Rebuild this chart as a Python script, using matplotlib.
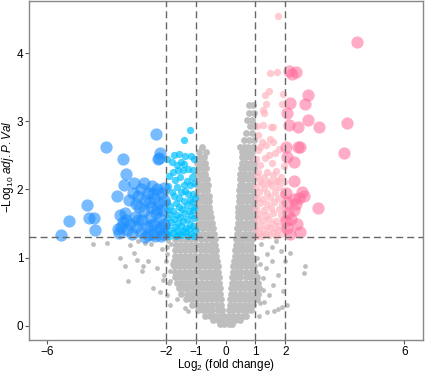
import matplotlib
matplotlib.use("Agg")
import matplotlib.pyplot as plt

plt.rcParams['font.family'] = ['Liberation Sans', 'DejaVu Sans']
plt.rcParams['mathtext.fontset'] = 'custom'
plt.rcParams['mathtext.rm'] = 'Liberation Sans'
plt.rcParams['mathtext.it'] = 'Liberation Sans:italic'

# ---- not significant, dense cloud: one y level per row, x values per row ----
gray_rows_y = [0.02, 0.08, 0.15, 0.23, 0.31, 0.39, 0.47, 0.55, 0.63, 0.71, 0.79, 0.87,
               0.95, 1.03, 1.11, 1.19, 1.27,
               1.35, 1.43, 1.51, 1.59, 1.67, 1.75, 1.83, 1.91, 1.99, 2.07, 2.15, 2.23,
               2.31, 2.39, 2.47, 2.55, 2.63, 2.73, 2.83, 2.93, 3.02, 3.12, 3.24]
gray_rows_x = [
    [-0.18, -0.04, 0.10, 0.22],
    [-0.42, -0.27, -0.12, 0.03, 0.18, 0.33, 0.47],
    [-0.68, -0.52, -0.36, -0.20, -0.05, 0.10, 0.26, 0.42, 0.57, 0.69],
    [-0.93, -0.77, -0.60, -0.44, -0.27, -0.12, 0.12, 0.26, 0.42, 0.58, 0.73, 0.85],
    [-1.13, -0.97, -0.80, -0.63, -0.47, -0.30, -0.14, 0.14, 0.28, 0.45, 0.62, 0.78, 0.93],
    [-1.33, -1.16, -1.00, -0.83, -0.66, -0.50, -0.33, -0.17, 0.16, 0.30, 0.47, 0.64, 0.80, 0.96, 1.05],
    [-1.48, -1.31, -1.14, -0.97, -0.80, -0.63, -0.47, -0.31, -0.18, 0.18, 0.31, 0.47, 0.63, 0.80, 0.96, 1.10],
    [-1.58, -1.41, -1.24, -1.07, -0.90, -0.73, -0.56, -0.40, -0.26, -0.19, 0.19, 0.31, 0.48, 0.65, 0.82, 0.98, 1.13],
    [-1.64, -1.47, -1.30, -1.13, -0.96, -0.79, -0.62, -0.45, -0.31, -0.21, 0.21, 0.32, 0.49, 0.66, 0.83, 0.98, 1.10],
    [-1.69, -1.52, -1.35, -1.18, -1.01, -0.84, -0.67, -0.50, -0.35, -0.23, 0.23, 0.35, 0.50, 0.67, 0.84, 0.98, 1.06],
    [-1.71, -1.54, -1.37, -1.20, -1.03, -0.86, -0.69, -0.52, -0.37, -0.25, 0.25, 0.37, 0.51, 0.68, 0.84, 0.98],
    [-1.74, -1.57, -1.40, -1.23, -1.06, -0.89, -0.72, -0.55, -0.40, -0.27, 0.26, 0.38, 0.52, 0.69, 0.84, 0.94],
    [-1.74, -1.57, -1.40, -1.23, -1.06, -0.89, -0.72, -0.55, -0.41, -0.29, 0.28, 0.40, 0.53, 0.70, 0.85, 0.92],
    [-1.71, -1.54, -1.37, -1.20, -1.03, -0.86, -0.69, -0.53, -0.42, -0.31, 0.30, 0.42, 0.55, 0.70, 0.86],
    [-1.69, -1.52, -1.35, -1.18, -1.01, -0.84, -0.67, -0.52, -0.43, -0.33, 0.32, 0.43, 0.56, 0.71, 0.85],
    [-1.67, -1.50, -1.33, -1.16, -0.99, -0.82, -0.65, -0.50, -0.44, -0.35, 0.34, 0.45, 0.58, 0.72, 0.85],
    [-1.69, -1.52, -1.35, -1.18, -1.01, -0.84, -0.67, -0.52, -0.45, -0.37, 0.36, 0.47, 0.60, 0.74, 0.88],
    [-0.92, -0.76, -0.60, -0.47, -0.39, 0.38, 0.50, 0.66, 0.82, 0.96],
    [-0.95, -0.79, -0.63, -0.50, -0.41, 0.39, 0.50, 0.64, 0.80, 0.95],
    [-0.90, -0.74, -0.58, -0.46, 0.40, 0.52, 0.67, 0.83, 0.97],
    [-0.96, -0.80, -0.64, -0.50, 0.41, 0.53, 0.68, 0.84, 0.96],
    [-0.92, -0.76, -0.62, -0.52, 0.42, 0.54, 0.69, 0.85, 0.97],
    [-0.95, -0.79, -0.65, -0.54, 0.43, 0.55, 0.70, 0.86, 0.96],
    [-0.90, -0.74, -0.62, -0.55, 0.44, 0.56, 0.71, 0.87, 0.97],
    [-0.96, -0.80, -0.66, -0.57, 0.45, 0.57, 0.72, 0.88, 0.96],
    [-0.92, -0.76, -0.64, 0.46, 0.58, 0.73, 0.89],
    [-0.95, -0.80, -0.67, -0.60, 0.47, 0.59, 0.74, 0.90],
    [-0.90, -0.74, -0.64, 0.48, 0.60, 0.75, 0.91],
    [-0.96, -0.80, -0.68, 0.50, 0.62, 0.77, 0.93],
    [-0.88, -0.72, -0.66, 0.52, 0.64, 0.79, 0.94],
    [-0.95, -0.80, -0.70, 0.54, 0.66, 0.82, 0.95],
    [-0.85, -0.72, 0.56, 0.69, 0.85],
    [-0.90, -0.66, 0.56, 0.72, 0.90],
    [-0.80, 0.50, 0.62, 0.76, 0.92],
    [0.62, 0.78, 0.95],
    [0.70, 0.88],
    [0.82, 0.96],
    [0.72, 0.90],
    [0.77, 0.96],
    [0.77, 0.93],
]

# ---- not significant, scattered points ----
gray_out_x = [-4.46, -3.99, -3.54, -3.37, -3.26, -3.09, -2.98, -2.76, -2.80, -2.42, -2.30, -2.14,
              -2.10, -1.90, -1.64, -1.36, -1.25, -2.60, -2.50, -2.05, -2.00, -1.95, -1.85, -1.85,
              -1.80, -2.70, -2.95, -3.20, -2.20, -1.95, -1.92, -1.88, -1.98, -1.82,
              2.67, 2.63, 2.16, 1.75, 1.55, 1.94, 1.77, 1.61, 1.38, 1.27, 1.16, 1.85, 1.70,
              1.55, 1.20, 1.40, 1.45, 1.30, 1.15, 2.00, 2.05, 1.90, 1.25, 1.10, 1.05, 1.12, 1.35, 1.60]
gray_out_y = [1.20, 1.22, 1.00, 0.87, 0.65, 1.07, 0.97, 0.87, 0.80, 0.56, 0.85, 1.12,
              0.67, 0.62, 0.39, 0.26, 0.22, 0.95, 1.20, 0.75, 0.95, 0.45, 0.65, 0.30,
              0.90, 1.22, 1.25, 1.18, 0.50, 1.15, 1.25, 0.80, 1.05, 1.20,
              0.88, 0.77, 1.07, 0.75, 0.95, 0.51, 0.24, 0.21, 0.20, 0.53, 0.34, 1.10, 1.25,
              1.15, 1.20, 1.05, 0.45, 0.35, 0.90, 0.95, 0.30, 0.28, 0.70, 0.60, 1.00, 0.15, 0.85, 0.60]

# ---- down, |log2FC| between 1 and 2 ----
lblue_x = [-1.20, -1.39, -1.73, -1.56, -1.36, -1.17, -1.05, -1.81, -1.50, -1.64, -1.41, -1.08,
           -1.42, -1.75, -1.13, -1.54, -1.69, -1.30, -1.41, -1.19, -1.63, -1.80, -1.49, -1.27,
           -1.11, -1.95, -1.90, -1.60, -1.25, -1.05, -1.92, -1.35, -1.72, -1.58, -1.20, -1.03,
           -1.95, -1.65, -1.40, -1.12, -1.85, -1.55, -1.30, -1.05, -1.97, -1.75, -1.47, -1.22,
           -1.08, -1.88, -1.62, -1.38, -1.15, -1.95, -1.72, -1.52, -1.28, -1.05, -1.83, -1.60,
           -1.42, -1.18, -1.96, -1.70, -1.50, -1.33, -1.10, -1.87, -1.64, -1.44, -1.24, -1.04,
           -1.97, -1.78, -1.55, -1.36, -1.15, -1.90, -1.68, -1.48, -1.27, -1.07]
lblue_y = [2.87, 2.72, 2.51, 2.52, 2.49, 2.49, 2.44, 2.41, 2.41, 2.36, 2.38, 2.29,
           2.29, 2.25, 2.19, 2.19, 2.14, 2.12, 2.06, 2.06, 2.04, 1.96, 1.96, 1.93,
           1.93, 2.45, 2.20, 2.28, 2.30, 2.10, 2.05, 1.98, 1.90, 1.88, 1.85, 1.88,
           1.82, 1.80, 1.83, 1.81, 1.76, 1.75, 1.77, 1.74, 1.70, 1.69, 1.71, 1.68,
           1.70, 1.64, 1.63, 1.65, 1.62, 1.58, 1.57, 1.59, 1.56, 1.58, 1.52, 1.51,
           1.53, 1.50, 1.46, 1.45, 1.47, 1.44, 1.46, 1.40, 1.41, 1.39, 1.42, 1.40,
           1.35, 1.36, 1.34, 1.37, 1.35, 1.32, 1.31, 1.33, 1.32, 1.31]

# ---- down, |log2FC| > 2 ----
dblue_x = [-5.51, -5.26, -4.64, -4.60, -4.42, -4.38, -4.02, -3.43, -3.34, -3.63, -3.41, -3.06,
           -2.73, -2.47, -2.32, -2.20, -2.28, -2.23,
           -3.37, -3.57, -3.50, -3.45, -3.30, -3.20, -3.15, -3.05, -3.00, -2.95, -2.90, -2.85,
           -2.80, -2.75, -2.70, -2.65, -2.60, -2.55, -2.50, -2.45, -2.40, -2.40, -2.35, -2.30,
           -2.25, -2.25, -2.20, -2.15, -2.12, -2.10, -2.08, -2.05, -2.05, -2.18, -2.62, -2.95,
           -3.25, -3.10, -2.85, -3.55, -3.62, -2.38, -2.50, -2.70, -2.15, -2.30, -2.45, -2.58,
           -3.00, -3.35]
dblue_y = [1.33, 1.53, 1.77, 1.58, 1.58, 1.40, 2.63, 2.44, 2.23, 1.90, 2.07, 2.10,
           2.10, 2.05, 2.82, 2.53, 2.44, 2.46,
           1.66, 1.36, 1.45, 1.52, 1.40, 1.50, 1.35, 1.60, 1.45, 1.90, 1.75, 1.38,
           1.55, 1.68, 1.85, 1.45, 1.95, 1.60, 1.75, 1.35, 1.88, 1.50, 1.65, 2.00,
           1.80, 1.42, 1.58, 1.95, 1.70, 1.35, 1.85, 1.50, 2.02, 1.32, 1.33, 1.55,
           1.85, 1.95, 2.00, 1.62, 1.42, 1.32, 1.48, 1.30, 1.45, 1.72, 1.95, 1.82,
           1.78, 1.55]

# ---- up, |log2FC| between 1 and 2 ----
lpink_x = [1.77, 1.49, 1.74, 1.33, 1.47, 1.91, 1.36, 1.25, 1.28, 1.88, 1.05, 1.27, 1.51, 1.59,
           1.49, 1.16, 1.66, 1.44, 1.10, 1.33, 1.55, 1.16, 1.69, 1.38, 1.10, 1.49, 1.21, 1.77,
           1.08, 1.22, 1.80, 1.35, 1.95, 1.60, 1.03,
           1.05, 1.30, 1.60, 1.85, 1.15, 1.42, 1.70, 1.95, 1.03, 1.28, 1.55, 1.80,
           1.12, 1.38, 1.65, 1.92, 1.05, 1.25, 1.50, 1.75, 1.15, 1.40, 1.62, 1.88,
           1.02, 1.28, 1.52, 1.78, 1.95, 1.12, 1.35, 1.60, 1.85, 1.05, 1.25, 1.45, 1.70, 1.92,
           1.15, 1.38, 1.58, 1.80, 1.03, 1.27, 1.50, 1.72, 1.93, 1.12, 1.35, 1.62, 1.85,
           1.05, 1.22, 1.45, 1.68]
lpink_y = [4.55, 3.71, 3.73, 3.39, 3.45, 3.40, 3.25, 3.17, 3.12, 3.25, 2.93, 2.95, 2.91, 2.91,
           2.74, 2.63, 2.53, 2.50, 2.58, 2.46, 2.39, 2.36, 2.27, 2.25, 2.25, 2.12, 2.09, 2.12,
           2.80, 2.70, 2.60, 2.65, 2.35, 2.70, 2.45,
           2.20, 2.18, 2.21, 2.19, 2.12, 2.10, 2.13, 2.11, 2.04, 2.02, 2.05, 2.03,
           1.96, 1.95, 1.97, 1.94, 1.88, 1.86, 1.89, 1.87, 1.80, 1.79, 1.81, 1.78,
           1.72, 1.70, 1.73, 1.71, 1.72, 1.64, 1.63, 1.65, 1.62, 1.56, 1.55, 1.57, 1.54, 1.56,
           1.48, 1.47, 1.49, 1.46, 1.42, 1.41, 1.43, 1.40, 1.42, 1.36, 1.35, 1.37, 1.34,
           1.32, 1.31, 1.33, 1.32]

# ---- up, |log2FC| > 2 ----
dpink_x = [4.40, 2.12, 2.36, 2.24, 2.75, 2.67, 2.17, 2.07, 2.12, 2.42, 2.77, 3.15, 4.08, 3.99,
           2.03, 2.43, 2.49, 2.06, 2.28, 2.28, 2.03, 2.56, 2.63, 2.46, 2.28, 2.05, 3.11, 2.21,
           2.03, 2.50, 2.07, 2.28, 2.10, 2.35, 2.15, 2.40]
dpink_y = [4.16, 3.74, 3.73, 3.70, 3.39, 3.26, 3.27, 3.12, 2.95, 2.91, 3.02, 2.92, 2.98, 2.54,
           2.63, 2.63, 2.63, 2.47, 2.40, 2.13, 1.95, 1.96, 1.90, 1.88, 1.86, 1.82, 1.73, 1.56,
           1.53, 1.37, 1.44, 1.70, 1.65, 1.78, 1.35, 1.50]

xticks = [-6, -2, -1, 0, 1, 2, 6]
yticks = [0, 1, 2, 3, 4]

cloud_x = [x for y, row in zip(gray_rows_y, gray_rows_x) for x in row]
cloud_y = [y for y, row in zip(gray_rows_y, gray_rows_x) for x in row]

fig = plt.figure(figsize=(4.25, 3.72), dpi=100)
ax = fig.add_axes([0.068, 0.085, 0.927, 0.913])

ax.scatter(cloud_x, cloud_y, s=24, color='#BEBEBE', linewidths=0, zorder=1)
ax.scatter(gray_out_x, gray_out_y, s=12, color='#BEBEBE', linewidths=0, zorder=1)
ax.scatter(lblue_x, lblue_y, s=28, color='#00BFFF', alpha=0.7, linewidths=0, zorder=2)
ax.scatter(lpink_x, lpink_y, s=28, color='#FFB6C1', alpha=0.7, linewidths=0, zorder=2)
ax.scatter(dblue_x, dblue_y, s=78, color='#1E90FF', alpha=0.6, linewidths=0, zorder=3)
ax.scatter(dpink_x, dpink_y, s=78, color='#FF6A9A', alpha=0.55, linewidths=0, zorder=3)

# threshold lines
for v in [-2, -1, 1, 2]:
    ax.axvline(v, color='#666666', lw=1, ls=(0, (5, 3)), zorder=4)
ax.axhline(1.3, color='#666666', lw=1, ls=(0, (5, 3)), zorder=4)

ax.set_xlim(-6.6, 6.62)
ax.set_ylim(-0.215, 4.77)
ax.set_xticks(xticks)
ax.set_yticks(yticks)
ax.tick_params(labelsize=8.5, length=3, width=0.8, color='#555555', pad=1)
for sp in ax.spines.values():
    sp.set_color('#888888')
    sp.set_linewidth(1)

ax.set_xlabel(r'Log$_2$ (fold change)', fontsize=8.5, va='center')
ax.set_ylabel(r'$-$Log$_{10}$ $\it{adj.P.Val}$', fontsize=8.5, va='center', ha='center')
ax.xaxis.set_label_coords(0.5, -0.073)
ax.yaxis.set_label_coords(-0.054, 0.51)

fig.savefig('out.png', dpi=100)
